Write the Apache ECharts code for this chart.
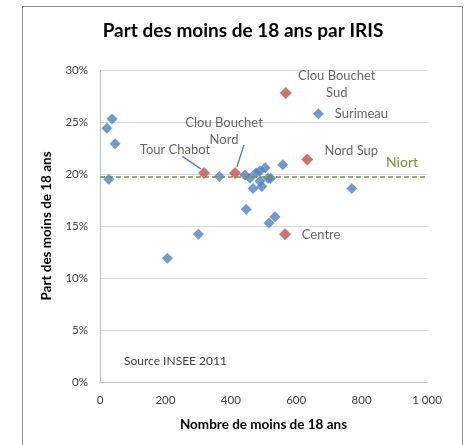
<!DOCTYPE html>
<html>
<head>
<meta charset="utf-8">
<script src="https://cdn.jsdelivr.net/npm/echarts@6/dist/echarts.min.js"></script>
<style>
  html, body { margin: 0; padding: 0; background: #fff; }
  #chart { width: 464px; height: 445px; }
</style>
</head>
<body>
<div id="chart"></div>
<script>
// IRIS ordinaires (bleu)
const blueX = [21, 37, 46, 27, 365, 443, 459, 477, 489, 505, 489, 514, 522, 468, 495, 447, 535, 517, 559, 301, 206, 770];
const blueY = [24.4, 25.3, 22.9, 19.5, 19.75, 19.9, 19.6, 20.1, 20.3, 20.6, 19.3, 19.6, 19.6, 18.6, 18.8, 16.6, 15.9, 15.3, 20.9, 14.2, 11.9, 18.6];

// IRIS nommés (bleu)
const namedBlue = ['Surimeau'];
const namedBlueX = [668];
const namedBlueY = [25.8];

// IRIS en rouge
const redNames = ['Tour Chabot', 'Clou Bouchet\nNord', 'Clou Bouchet\nSud', 'Nord Sup', 'Centre'];
const redX = [318, 413, 568, 634, 566];
const redY = [20.1, 20.1, 27.8, 21.4, 14.2];

const niortValue = 19.7;
const yTicks = [0, 5, 10, 15, 20, 25, 30];
const xTicks = [0, 200, 400, 600, 800, 1000];

// traits de rappel (début, fin) en coordonnées des axes
const leaders = [
  [[252, 21.7], [308, 20.5]],
  [[440, 22.8], [419, 20.7]]
];

const FONT = 'Lato';
const BLUE = '#4F81BD';
const RED = '#C0504D';

// position des étiquettes (px par rapport au point)
const redLabelPos = [[-29, -23], [-11, -42], [51, -9], [44, -9], [36, 0]];

const chart = echarts.init(document.getElementById('chart'));

const option = {
  backgroundColor: '#fff',
  animation: false,
  textStyle: { fontFamily: FONT },
  title: {
    text: 'Part des moins de 18 ans par IRIS',
    left: 238, top: 16, textAlign: 'center',
    textStyle: { fontFamily: FONT, fontSize: 19, fontWeight: 'bold', color: '#000' }
  },
  graphic: [
    {
      type: 'rect', left: 20, top: 4, z: -1,
      shape: { width: 440, height: 460 },
      style: { fill: 'none', stroke: '#8c8c8c', lineWidth: 1 }
    },
    {
      type: 'text', left: 124, top: 355,
      style: { text: 'Source INSEE 2011', fontFamily: FONT, fontSize: 12, fill: '#404040' }
    }
  ],
  grid: { left: 100, right: 37, top: 70, bottom: 63 },
  xAxis: {
    type: 'value', min: 0, max: 1000, interval: 200,
    name: 'Nombre de moins de 18 ans', nameLocation: 'middle', nameGap: 36,
    nameTextStyle: { fontFamily: FONT, fontSize: 13.5, fontWeight: 'bold', color: '#000' },
    axisLine: { show: true, lineStyle: { color: '#bfbfbf' } },
    axisTick: { show: false },
    splitLine: { show: false },
    axisLabel: {
      color: '#404040', fontSize: 11.5, fontFamily: FONT, margin: 12,
      formatter: v => xTicks.includes(v) ? (v >= 1000 ? '1 000' : String(v)) : ''
    }
  },
  yAxis: {
    type: 'value', min: 0, max: 30, interval: 5,
    name: 'Part des moins de 18 ans', nameLocation: 'middle', nameGap: 46,
    nameTextStyle: { fontFamily: FONT, fontSize: 13.5, fontWeight: 'bold', color: '#000' },
    axisLine: { show: true, lineStyle: { color: '#bfbfbf' } },
    axisTick: { show: false },
    splitLine: { lineStyle: { color: '#d9d9d9' } },
    axisLabel: {
      color: '#404040', fontSize: 11.5, fontFamily: FONT, margin: 12,
      formatter: v => yTicks.includes(v) ? v + '%' : ''
    }
  },
  series: [
    {
      type: 'scatter', symbol: 'diamond', symbolSize: 11,
      itemStyle: { color: BLUE },
      data: blueX.map((x, i) => [x, blueY[i]]),
      markLine: {
        silent: true, symbol: 'none',
        lineStyle: { color: '#77933C', type: [5, 3], width: 1.5 },
        label: {
          position: 'insideEndTop', formatter: 'Niort',
          color: '#77933C', fontSize: 14, fontFamily: FONT, distance: [9, 8]
        },
        data: [{ yAxis: niortValue }]
      }
    },
    // un trait de rappel par série
    ...leaders.map(l => ({
      type: 'line', silent: true, z: 4, showSymbol: false, symbol: 'none',
      lineStyle: { color: BLUE, width: 1.4 },
      data: l
    })),
    {
      type: 'scatter', symbol: 'diamond', symbolSize: 11,
      itemStyle: { color: BLUE },
      data: namedBlue.map((n, i) => ({ name: n, value: [namedBlueX[i], namedBlueY[i]] })),
      label: {
        show: true, position: 'inside', offset: [43, 0],
        formatter: p => p.name, color: '#404040', fontSize: 13, fontFamily: FONT
      }
    },
    {
      type: 'scatter', symbol: 'diamond', symbolSize: 12, z: 3,
      itemStyle: { color: RED },
      data: redNames.map((n, i) => ({ name: n, value: [redX[i], redY[i]] })),
      label: {
        show: true, position: 'inside', align: 'center',
        formatter: p => p.name, color: '#404040', fontSize: 13, fontFamily: FONT, lineHeight: 17
      },
      labelLayout: p => ({ dx: redLabelPos[p.dataIndex][0], dy: redLabelPos[p.dataIndex][1] })
    }
  ]
};

chart.setOption(option);
</script>
</body>
</html>
